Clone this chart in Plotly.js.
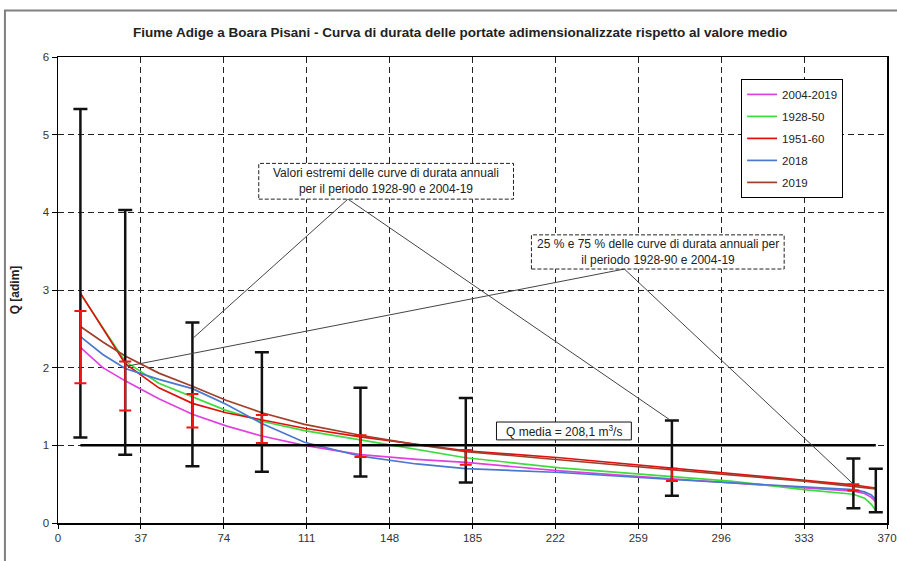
<!DOCTYPE html>
<html>
<head>
<meta charset="utf-8">
<script src="https://cdn.plot.ly/plotly-3.0.1.min.js"></script>
<style>
  html, body { margin: 0; padding: 0; background: #ffffff; }
  #chart { width: 897px; height: 561px; }
</style>
</head>
<body>
<div id="chart"></div>
<script>
// ---- Data ----
const seriesNames = ["2004-2019", "1928-50", "1951-60", "2018", "2019"];
const durationDays = [10, 20, 30, 45, 60, 75, 91, 110, 135, 160, 182, 224, 274, 300, 333, 355, 360, 363, 365];
const q2004_2019 = [2.26, 2.00, 1.83, 1.60, 1.40, 1.25, 1.12, 1.00, 0.88, 0.82, 0.78, 0.67, 0.57, 0.52, 0.46, 0.41, 0.38, 0.33, 0.27];
const q1928_50   = [2.95, 2.52, 2.08, 1.80, 1.62, 1.45, 1.31, 1.19, 1.07, 0.95, 0.84, 0.71, 0.60, 0.54, 0.43, 0.37, 0.32, 0.24, 0.16];
const q1951_60   = [2.96, 2.50, 2.05, 1.74, 1.54, 1.42, 1.33, 1.22, 1.11, 1.01, 0.93, 0.84, 0.71, 0.64, 0.55, 0.49, 0.47, 0.46, 0.45];
const q2018      = [2.40, 2.17, 1.99, 1.85, 1.73, 1.53, 1.28, 1.04, 0.86, 0.76, 0.70, 0.65, 0.56, 0.52, 0.47, 0.43, 0.40, 0.36, 0.30];
const q2019      = [2.53, 2.33, 2.15, 1.93, 1.76, 1.58, 1.42, 1.27, 1.13, 1.01, 0.92, 0.81, 0.68, 0.62, 0.54, 0.47, 0.46, 0.45, 0.44];

const barDays = [10, 30, 60, 91, 135, 182, 274, 355, 365];
const extremeMax = [5.33, 4.03, 2.58, 2.20, 1.74, 1.61, 1.32, 0.83, 0.70];
const extremeMin = [1.10, 0.88, 0.73, 0.66, 0.60, 0.52, 0.35, 0.19, 0.14];
const quartDays = [10, 30, 60, 91, 135, 182, 274, 355];
const q75 = [2.73, 2.08, 1.66, 1.39, 1.13, 0.94, 0.70, 0.50];
const q25 = [1.80, 1.45, 1.23, 1.03, 0.85, 0.75, 0.54, 0.42];

const qMediaDays = [10, 365];
const qMediaValue = 1;

const xTicks = [0, 37, 74, 111, 148, 185, 222, 259, 296, 333, 370];
const yTicks = [0, 1, 2, 3, 4, 5, 6];

// ---- Styling ----
const colors = ["#e040e0", "#3ddc3d", "#e01010", "#4a78d0", "#a0402a"];
const seriesValues = [q2004_2019, q1928_50, q1951_60, q2018, q2019];
const FONT = "Liberation Sans, Arial, sans-serif";

const traces = [];
seriesNames.forEach((name, i) => {
  traces.push({
    type: "scatter", mode: "lines", name: name,
    x: durationDays, y: seriesValues[i],
    line: { color: colors[i], width: 1.7 },
    legendgroup: "g" + i, hoverinfo: "skip"
  });
});

traces.push({
  type: "scatter", mode: "lines", showlegend: false, hoverinfo: "skip",
  x: qMediaDays, y: qMediaDays.map(() => qMediaValue),
  line: { color: "#000000", width: 2.5 }
});

traces.push({
  type: "scatter", mode: "markers", showlegend: false, hoverinfo: "skip",
  x: barDays, y: extremeMin,
  marker: { size: 1, color: "rgba(0,0,0,0)" },
  error_y: {
    type: "data", symmetric: false,
    array: extremeMax.map((v, i) => v - extremeMin[i]),
    arrayminus: extremeMin.map(() => 0),
    color: "#111111", thickness: 2.5, width: 7
  }
});

traces.push({
  type: "scatter", mode: "markers", showlegend: false, hoverinfo: "skip",
  x: quartDays, y: q25,
  marker: { size: 1, color: "rgba(0,0,0,0)" },
  error_y: {
    type: "data", symmetric: false,
    array: q75.map((v, i) => v - q25[i]),
    arrayminus: q25.map(() => 0),
    color: "#ee1515", thickness: 2, width: 6
  }
});

const boxLine = { color: "#222222", width: 1, dash: "4px,2px" };
const leader = { color: "#444444", width: 1 };

const layout = {
  width: 897, height: 561,
  margin: { l: 58, r: 10, t: 57, b: 38 },
  paper_bgcolor: "#ffffff", plot_bgcolor: "#ffffff",
  font: { family: FONT, size: 11, color: "#222222" },
  title: {
    text: "<b>Fiume Adige a Boara Pisani - Curva di durata delle portate adimensionalizzate rispetto al valore medio</b>",
    font: { family: FONT, size: 13.5, color: "#222222" },
    x: 0.513, xanchor: "center", y: 0.943, yanchor: "middle"
  },
  showlegend: true,
  legend: {
    x: 0.824, xanchor: "left", y: 0.953, yanchor: "top",
    bgcolor: "#ffffff", bordercolor: "#000000", borderwidth: 1,
    font: { family: FONT, size: 11.5, color: "#222222" },
    tracegroupgap: 3, itemwidth: 30
  },
  xaxis: {
    range: [0, 370], tickmode: "array", tickvals: xTicks,
    ticks: "outside", ticklen: 4, tickcolor: "#000000",
    showline: true, mirror: true, linecolor: "#000000", linewidth: 1.5,
    showgrid: true, gridcolor: "#222222", gridwidth: 1, griddash: "6px,4px",
    zeroline: false, tickfont: { family: FONT, size: 11.5, color: "#333333" },
    fixedrange: true
  },
  yaxis: {
    range: [0, 6], tickmode: "array", tickvals: yTicks,
    ticks: "outside", ticklen: 5, tickcolor: "#000000",
    showline: true, mirror: true, linecolor: "#000000", linewidth: 1.5,
    showgrid: true, gridcolor: "#222222", gridwidth: 1, griddash: "6px,4px",
    zeroline: false, tickfont: { family: FONT, size: 11.5, color: "#333333" },
    title: { text: "<b>Q [adim]</b>", font: { family: FONT, size: 12, color: "#222222" }, standoff: 20 },
    fixedrange: true
  },
  shapes: [
    // outer chart frame
    { type: "rect", xref: "paper", yref: "paper", x0: -0.064, x1: 1.02, y0: -0.09, y1: 1.1,
      line: { color: "#808080", width: 2 }, fillcolor: "rgba(0,0,0,0)", layer: "below" },
    // leader lines
    { type: "line", xref: "x", yref: "y", x0: 129.4, y0: 4.17, x1: 60.3, y1: 2.38, line: leader, layer: "above" },
    { type: "line", xref: "x", yref: "y", x0: 129.4, y0: 4.17, x1: 273, y1: 1.33, line: leader, layer: "above" },
    { type: "line", xref: "x", yref: "y", x0: 252.8, y0: 3.27, x1: 31, y1: 2.02, line: leader, layer: "above" },
    { type: "line", xref: "x", yref: "y", x0: 252.8, y0: 3.27, x1: 355, y1: 0.50, line: leader, layer: "above" },
    // annotation boxes
    { type: "rect", xref: "x", yref: "y", x0: 89.6, x1: 203.3, y0: 4.17, y1: 4.63,
      line: boxLine, fillcolor: "#ffffff", layer: "above" },
    { type: "rect", xref: "x", yref: "y", x0: 211.3, x1: 324.1, y0: 3.27, y1: 3.71,
      line: boxLine, fillcolor: "#ffffff", layer: "above" },
    { type: "rect", xref: "x", yref: "y", x0: 195.7, x1: 255.9, y0: 1.07, y1: 1.30,
      line: { color: "#111111", width: 1 }, fillcolor: "#ffffff", layer: "above" }
  ],
  annotations: [
    { xref: "x", yref: "y", x: 146.4, y: 4.40, showarrow: false,
      text: "Valori estremi delle curve di durata annuali<br>per il periodo 1928-90 e 2004-19",
      font: { family: FONT, size: 12, color: "#222222" }, align: "center" },
    { xref: "x", yref: "y", x: 267.7, y: 3.49, showarrow: false,
      text: "25 % e 75 % delle curve di durata annuali per<br>il periodo 1928-90 e 2004-19",
      font: { family: FONT, size: 12, color: "#222222" }, align: "center" },
    { xref: "x", yref: "y", x: 225.8, y: 1.185, showarrow: false,
      text: "Q media = 208,1 m<sup>3</sup>/s",
      font: { family: FONT, size: 12, color: "#222222" }, align: "center" }
  ]
};

Plotly.newPlot("chart", traces, layout, { staticPlot: true, displayModeBar: false });
</script>
</body>
</html>
